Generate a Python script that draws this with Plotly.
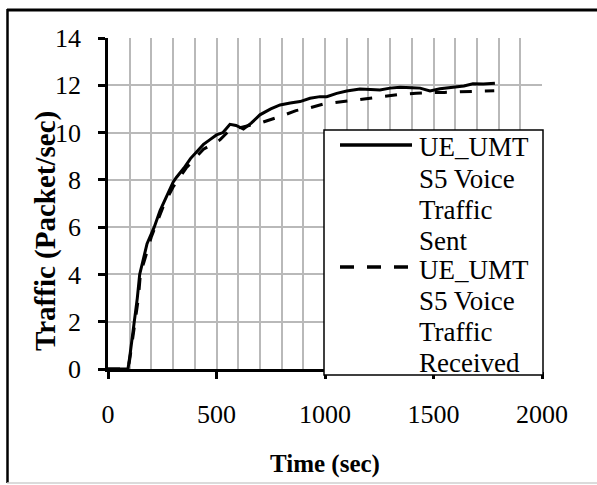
import plotly.graph_objects as go

# Simulation time (sec) and traffic (packets/sec)
sent_time = [0, 50, 92, 100, 110, 121, 135, 146, 165, 180, 213, 240, 270, 300, 315,
             350, 380, 410, 440, 470, 500, 530, 562, 590, 624, 660, 700, 750, 793,
             840, 885, 931, 977, 1008, 1054, 1100, 1161, 1210, 1253, 1300, 1346,
             1400, 1438, 1484, 1530, 1590, 1640, 1682, 1730, 1783]
sent_traffic = [0, 0, 0, 0.5, 1.2, 2.0, 3.0, 4.0, 4.8, 5.3, 6.0, 6.7, 7.3, 7.9, 8.1,
                8.5, 8.9, 9.2, 9.5, 9.7, 9.9, 10.0, 10.35, 10.3, 10.15, 10.4, 10.75,
                11.0, 11.17, 11.25, 11.31, 11.45, 11.52, 11.52, 11.66, 11.76, 11.84,
                11.82, 11.8, 11.88, 11.92, 11.9, 11.88, 11.76, 11.85, 11.92, 11.97,
                12.06, 12.05, 12.09]

recv_time = [0, 50, 92, 100, 121, 140, 150, 165, 200, 230, 260, 300, 330, 360, 400,
             440, 480, 516, 560, 600, 650, 700, 747, 800, 866, 930, 995, 1060, 1121,
             1180, 1238, 1300, 1360, 1420, 1484, 1550, 1613, 1680, 1745, 1780]
recv_traffic = [0, 0, 0, 0.4, 1.8, 3.0, 4.1, 4.5, 5.6, 6.3, 7.0, 7.7, 8.1, 8.5, 8.9,
                9.3, 9.5, 9.69, 10.1, 10.2, 10.3, 10.4, 10.54, 10.7, 10.93, 11.05,
                11.21, 11.28, 11.35, 11.42, 11.49, 11.55, 11.63, 11.66, 11.7, 11.7,
                11.72, 11.74, 11.76, 11.77]

sent_label = ["UE_UMT", "S5 Voice", "Traffic", "Sent"]
recv_label = ["UE_UMT", "S5 Voice", "Traffic", "Received"]

x_ticks = [0, 500, 1000, 1500, 2000]
y_ticks = [0, 2, 4, 6, 8, 10, 12, 14]

W, H = 597, 485
L, R, T, B = 108, 55, 38, 116
PW, PH = W - L - R, H - T - B

SERIF = "Liberation Serif"


def px(x):
    return (x - L) / PW


def py(y):
    return (H - B - y) / PH


fig = go.Figure()
fig.add_trace(go.Scatter(x=sent_time, y=sent_traffic, mode="lines",
                         name="UE_UMTS5 Voice Traffic Sent",
                         line=dict(color="black", width=3)))
fig.add_trace(go.Scatter(x=recv_time, y=recv_traffic, mode="lines",
                         name="UE_UMTS5 Voice Traffic Received",
                         line=dict(color="black", width=3, dash="12px,13px")))

grid = "#b9b9b9"
fig.update_xaxes(range=[0, 2000], tickvals=x_ticks, ticks="outside", ticklen=7,
                 tickwidth=2.5, tickcolor="black", showline=True, linecolor="black",
                 linewidth=2.5, showgrid=True, gridcolor=grid, gridwidth=1.5,
                 minor=dict(dtick=100, showgrid=True, gridcolor=grid, gridwidth=1.5),
                 zeroline=False, ticklabelstandoff=13,
                 tickfont=dict(family=SERIF, size=26, color="black"))
fig.update_yaxes(range=[0, 14], tickvals=y_ticks, ticks="outside", ticklen=7,
                 tickwidth=2.5, tickcolor="black", showline=True, linecolor="black",
                 linewidth=2.5, showgrid=True, gridcolor=grid, gridwidth=1.5,
                 zeroline=False, ticklabelstandoff=12,
                 tickfont=dict(family=SERIF, size=26, color="black"))

shapes = []
annotations = []

# Outer chart frame
shapes.append(dict(type="line", xref="paper", yref="paper", x0=px(7), x1=px(600),
                   y0=py(10), y1=py(10), line=dict(color="black", width=3)))
shapes.append(dict(type="line", xref="paper", yref="paper", x0=px(7.5), x1=px(7.5),
                   y0=py(9), y1=py(483), line=dict(color="black", width=2.5)))
shapes.append(dict(type="line", xref="paper", yref="paper", x0=px(7), x1=px(600),
                   y0=py(483), y1=py(483), line=dict(color="#cfcfcf", width=1.5)))

# Legend box
shapes.append(dict(type="rect", xref="paper", yref="paper", x0=px(324), x1=px(543),
                   y0=py(130), y1=py(375), fillcolor="white",
                   line=dict(color="black", width=1.5), layer="above"))
shapes.append(dict(type="line", xref="paper", yref="paper", x0=px(340), x1=px(412),
                   y0=py(145), y1=py(145), line=dict(color="black", width=3.5),
                   layer="above"))
shapes.append(dict(type="line", xref="paper", yref="paper", x0=px(340), x1=px(412),
                   y0=py(267), y1=py(267), line=dict(color="black", width=3.5,
                                                     dash="14px,13px"),
                   layer="above"))

line_y_sent = [147, 179, 210, 241]
line_y_recv = [270, 301, 332, 363]
for txt, yy in list(zip(sent_label, line_y_sent)) + list(zip(recv_label, line_y_recv)):
    annotations.append(dict(text=txt, xref="paper", yref="paper", x=px(417), y=py(yy),
                            xanchor="left", yanchor="middle", showarrow=False,
                            font=dict(family=SERIF, size=27, color="black")))

# Axis titles
annotations.append(dict(text="<b>Time (sec)</b>", xref="paper", yref="paper",
                        x=px(325), y=py(464), xanchor="center", yanchor="middle",
                        showarrow=False,
                        font=dict(family=SERIF, size=25, color="black")))
annotations.append(dict(text="<b>Traffic (Packet/sec)</b>", xref="paper", yref="paper",
                        x=px(46), y=py(231), xanchor="center", yanchor="middle",
                        showarrow=False, textangle=-90,
                        font=dict(family=SERIF, size=29, color="black")))

fig.update_layout(width=W, height=H, margin=dict(l=L, r=R, t=T, b=B),
                  paper_bgcolor="white", plot_bgcolor="white", showlegend=False,
                  shapes=shapes, annotations=annotations)

fig.write_html("out.html")
